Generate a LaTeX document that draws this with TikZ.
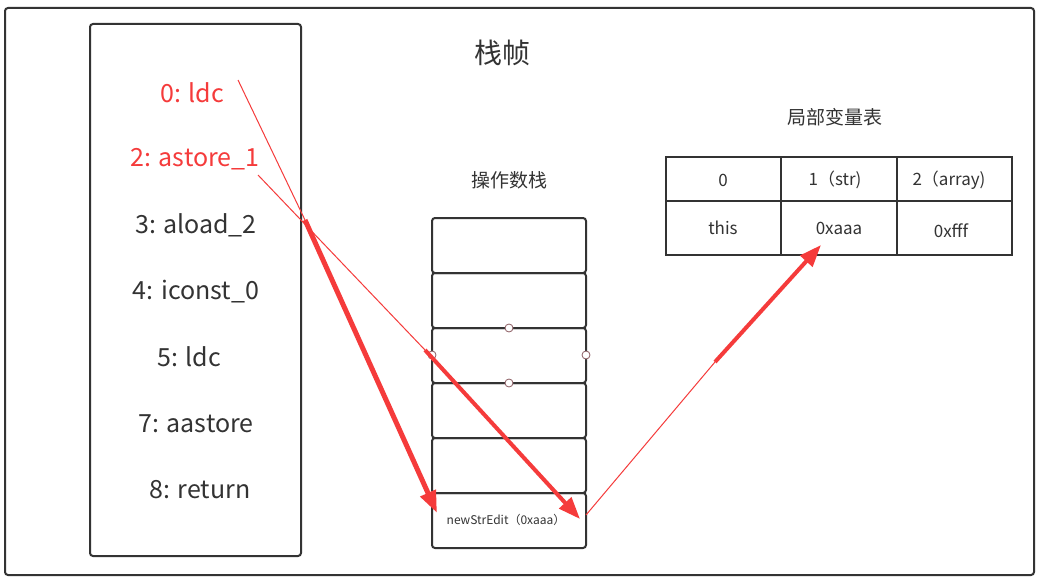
\documentclass[tikz,border=0pt]{standalone}
\usepackage{fontspec}
\setmainfont{Noto Sans CJK SC}
\usetikzlibrary{arrows.meta}
\definecolor{ln}{HTML}{333333}
\definecolor{rd}{HTML}{F53B3B}
\definecolor{dc}{HTML}{8A5A60}
\begin{document}
\begin{tikzpicture}[x=1pt,y=-1pt,
  box/.style={draw=ln,line width=2pt,rounded corners=3pt},
  cell/.style={draw=ln,line width=1.6pt},
  ins/.style={font=\fontsize{25}{28}\selectfont,text=ln},
  rins/.style={font=\fontsize{25}{28}\selectfont,text=rd},
  tt/.style={font=\fontsize{17}{20}\selectfont,text=ln},
  dot/.style={circle,draw=dc,fill=white,inner sep=0pt,minimum size=8pt,line width=0.8pt},
  thin/.style={draw=rd,line width=1pt},
  thick/.style={draw=rd,line width=5pt,-{Triangle[length=22pt,width=16pt]}}]
\useasboundingbox (0,0) rectangle (1037,578);
\fill[white] (0,0) rectangle (1037,578);
\draw[box] (5,8) rectangle (1034,575);
\draw[box] (90,24) rectangle (301,556);
\node[font=\fontsize{28}{32}\selectfont,text=ln] (title) at (502,53) {栈帧};
\node[rins] (i0) at (192,93) {0: ldc};
\node[rins] (i2) at (195,159) {2: astore\_1};
\node[ins] (i3) at (196,225) {3: aload\_2};
\node[ins] (i4) at (196,292) {4: iconst\_0};
\node[ins] (i5) at (189,357) {5: ldc};
\node[ins] (i7) at (196,424) {7: aastore};
\node[ins] (i8) at (200,490) {8: return};
\node[font=\fontsize{19}{22}\selectfont,text=ln] (ops) at (509,180) {操作数栈};
\foreach \i/\y in {1/218,2/273,3/328,4/383,5/438,6/493}{
  \draw[box] (432,\y) rectangle (586,\y+55);
}
\node[font=\fontsize{12}{14}\selectfont,text=ln] (ns) at (506,520) {newStrEdit（0xaaa）};
\node[dot] (d1) at (509,328) {};
\node[dot] (d2) at (432,355) {};
\node[dot] (d3) at (586,355) {};
\node[dot] (d4) at (509,383) {};
\node[font=\fontsize{19}{22}\selectfont,text=ln] (lv) at (835,117) {局部变量表};
\draw[cell] (666,157) rectangle (1012,255);
\draw[cell] (666,201) -- (1012,201);
\draw[cell] (781,157) -- (781,255);
\draw[cell] (897,157) -- (897,255);
\node[tt] (c0) at (723,180) {0};
\node[tt] (c1) at (835,180) {1（str)};
\node[tt] (c2) at (949,180) {2（array)};
\node[tt] (v0) at (723,228) {this};
\node[tt] (v1) at (839,228) {0xaaa};
\node[tt] (v2) at (951,231) {0xfff};
\coordinate (a0) at (238,80);
\coordinate (a1) at (305,220);
\coordinate (a2) at (437,513);
\coordinate (b0) at (258,175);
\coordinate (b1) at (425,350);
\coordinate (b2) at (580,519);
\coordinate (c0s) at (586,515);
\coordinate (c1m) at (715,362);
\coordinate (c2e) at (821,245);
\draw[thin] (a0) -- (a1);
\draw[thick] (a1) -- (a2);
\draw[thin] (b0) -- (b1);
\draw[thick,line width=4pt] (b1) -- (b2);
\draw[thin] (c0s) -- (c1m);
\draw[thick,line width=4pt] (c1m) -- (c2e);
\end{tikzpicture}
\end{document}
